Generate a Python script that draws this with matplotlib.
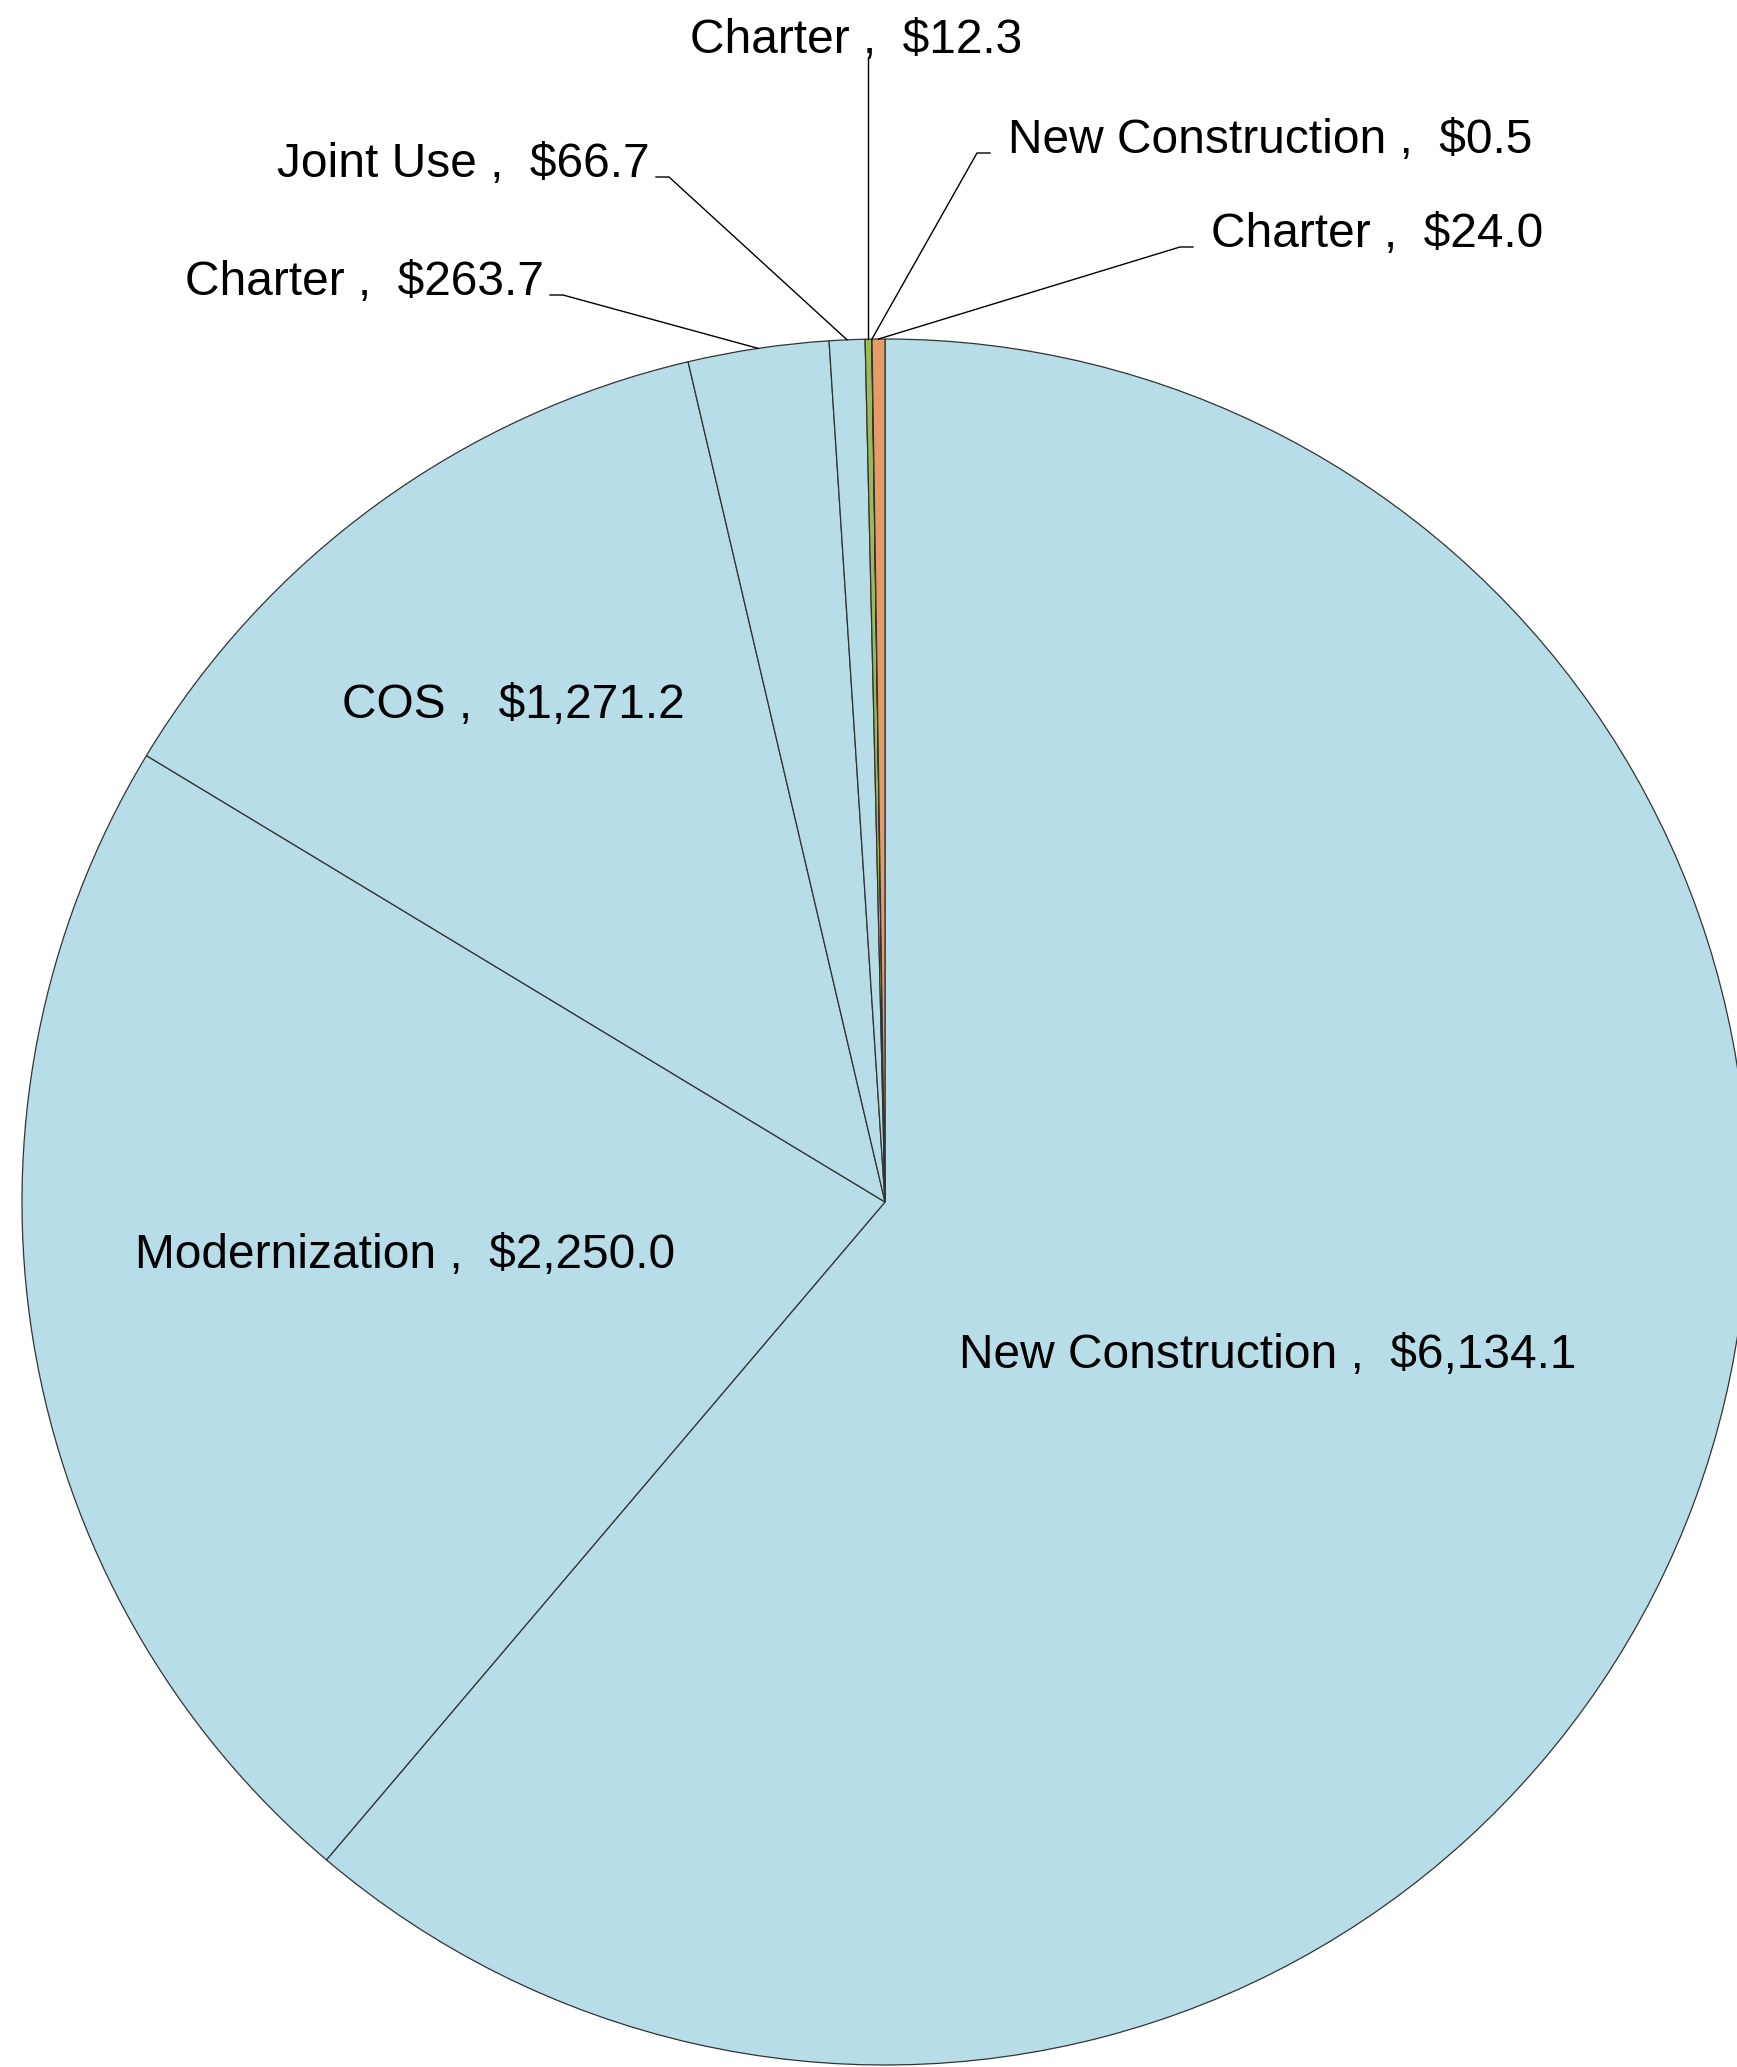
import numpy as np
import matplotlib.pyplot as plt

plt.rcParams['font.family'] = ['Liberation Sans', 'DejaVu Sans']

# slices in clockwise order starting at 12 o'clock
categories = ["New Construction", "Modernization", "COS", "Charter",
              "Joint Use", "Charter", "New Construction", "Charter"]
values = [6134.1, 2250.0, 1271.2, 263.7, 66.7, 12.3, 0.5, 24.0]

BLUE = "#b7dde8"
slice_colors = [BLUE, BLUE, BLUE, BLUE, BLUE, "#9bbb59", BLUE, "#e69c69"]

W, H = 1737, 2067
cx, cy, R = 885, 1202, 863
FS = 34.5

fig = plt.figure(figsize=(W / 100, H / 100), dpi=100)
ax = fig.add_axes([0, 0, 1, 1])

# y axis runs downward (pixel-like); startangle -90 + counterclock -> visual clockwise from top
wedges, _ = ax.pie(values, colors=slice_colors, startangle=-90, counterclock=True,
                   center=(cx, cy), radius=R,
                   wedgeprops=dict(edgecolor="#333333", linewidth=0.9))
ax.set_aspect('equal')
ax.set_xlim(0, W)
ax.set_ylim(H, 0)
ax.axis('off')


def label(i):
    return f"{categories[i]} ,  ${values[i]:,.1f}"


def edge_point(i):
    w = wedges[i]
    t = np.deg2rad((w.theta1 + w.theta2) / 2)
    return cx + R * np.cos(t), cy + R * np.sin(t)


# labels inside the big slices (text centre positions)
inside = {0: (1268, 1356), 1: (405, 1255), 2: (513, 706)}
for i, (x, y) in inside.items():
    ax.text(x, y, label(i), ha='center', va='center', fontsize=FS)

# outside labels with leader lines: (index, text x, baseline y, side)
outside = [
    (3, 544, 295, 'left'),
    (4, 650, 177, 'left'),
    (6, 1008, 153, 'right'),
    (7, 1211, 247, 'right'),
]
gap, seg = 6, 13
for i, tx, ty, side in outside:
    ex, ey = edge_point(i)
    if side == 'left':
        x1, x2 = tx + gap, tx + gap + seg
        ax.text(tx, ty, label(i), ha='right', va='baseline', fontsize=FS)
        ax.plot([ex, x2, x1], [ey, ty, ty], color='black', lw=1.0)
    else:
        x1, x2 = tx - 18 - seg, tx - 18
        ax.text(tx, ty, label(i), ha='left', va='baseline', fontsize=FS)
        ax.plot([ex, x1, x2], [ey, ty, ty], color='black', lw=1.0)

# Charter $12.3 sits straight above its slice
ex, ey = edge_point(5)
ax.text(856, 53, label(5), ha='center', va='baseline', fontsize=FS)
ax.plot([ex, ex], [ey, 59], color='black', lw=1.0)

fig.savefig("out.png", dpi=100)
